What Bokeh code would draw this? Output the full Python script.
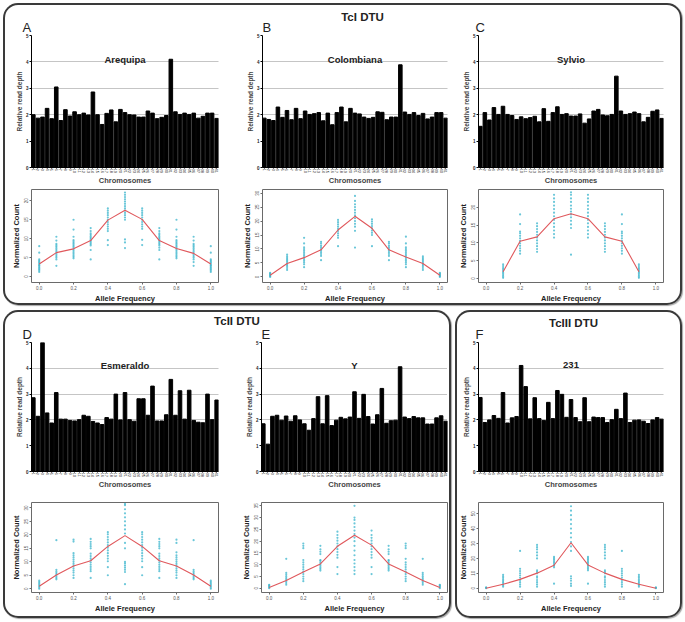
from bokeh.plotting import figure
from bokeh.layouts import row, column
from bokeh.models import Div, FixedTicker, Label, Range1d, PrintfTickFormatter
from bokeh.embed import file_html
from bokeh.resources import INLINE

FONT = "Liberation Sans"

# ---------------- data ----------------
chromosomes = list(range(1, 42))

arequipa_depth = [2.00, 1.87, 1.91, 2.24, 1.85, 3.05, 1.78, 2.19, 1.95, 2.11,
                  2.00, 2.06, 1.99, 2.86, 2.00, 1.63, 2.05, 2.18, 1.73, 2.20,
                  2.08, 2.00, 1.99, 1.91, 1.91, 2.14, 2.06, 1.85, 1.90, 1.97,
                  4.10, 2.11, 2.01, 2.06, 2.01, 2.06, 1.87, 1.94, 2.06, 2.06, 1.86]
colombiana_depth = [1.87, 1.82, 1.78, 2.29, 1.90, 2.16, 1.81, 2.24, 1.85, 2.14,
                    2.01, 2.04, 2.08, 1.77, 2.06, 1.62, 2.08, 2.29, 1.73, 2.24,
                    2.06, 2.03, 1.91, 1.86, 1.90, 2.11, 2.09, 1.81, 1.91, 1.91,
                    3.89, 2.10, 2.01, 2.08, 1.97, 2.05, 1.84, 1.91, 2.08, 2.08, 1.87]
sylvio_depth = [1.56, 2.08, 1.80, 2.27, 2.01, 2.32, 2.01, 1.97, 1.82, 1.92,
                1.85, 1.89, 1.94, 1.73, 2.23, 1.75, 2.08, 2.30, 2.01, 2.04,
                1.95, 1.95, 2.03, 1.68, 1.84, 2.14, 2.20, 1.99, 1.96, 2.01,
                3.46, 2.14, 2.01, 2.04, 2.10, 2.04, 1.73, 1.90, 2.13, 2.18, 1.86]
esmeraldo_depth = [2.86, 2.14, 5.00, 2.27, 1.88, 3.06, 2.03, 2.03, 1.98, 1.96,
                   2.01, 2.18, 2.14, 1.94, 1.88, 1.82, 2.09, 2.03, 3.00, 2.00,
                   3.06, 2.01, 1.95, 2.82, 2.82, 2.18, 3.31, 1.96, 1.96, 2.20,
                   3.57, 2.18, 3.13, 2.03, 3.15, 1.98, 1.91, 1.89, 3.00, 2.01, 2.77]
y_depth = [1.85, 1.06, 2.14, 2.18, 1.99, 2.15, 1.95, 2.16, 2.00, 1.85,
           1.60, 2.05, 2.90, 1.85, 2.94, 1.78, 1.99, 2.10, 2.04, 2.11,
           3.09, 2.06, 2.99, 2.13, 1.84, 2.20, 3.22, 1.87, 1.97, 1.99,
           4.06, 2.11, 2.05, 2.13, 2.08, 2.08, 1.84, 1.84, 2.08, 2.16, 1.95]
s231_depth = [2.87, 1.90, 2.00, 2.17, 2.06, 3.06, 1.88, 2.08, 2.13, 4.11,
              3.29, 2.04, 2.86, 2.05, 1.98, 2.68, 2.05, 3.14, 2.99, 2.10,
              2.79, 2.09, 1.93, 2.86, 1.93, 2.11, 2.09, 2.09, 1.90, 2.01,
              2.41, 2.05, 3.04, 1.90, 1.99, 2.00, 1.95, 1.86, 2.00, 2.09, 2.03]

allele_freq = [0.0, 0.1, 0.2, 0.3, 0.4, 0.5, 0.6, 0.7, 0.8, 0.9, 1.0]
sylvio_freq = [0.1, 0.2, 0.3, 0.4, 0.5, 0.6, 0.7, 0.8, 0.9]

arequipa_curve = [3.3, 6.3, 7.3, 9.5, 14.9, 17.5, 15.1, 9.5, 7.4, 6.1, 3.3]
colombiana_curve = [0.6, 4.8, 6.9, 9.7, 16.8, 21.7, 17.4, 9.7, 7.1, 4.8, 0.6]
sylvio_curve = [1.9, 10.5, 11.7, 16.8, 18.2, 16.8, 11.7, 10.5, 1.9]
esmeraldo_curve = [0.9, 5.1, 8.4, 10.4, 15.7, 19.7, 15.7, 10.4, 8.4, 5.1, 0.9]
y_curve = [0.3, 3.3, 6.9, 10.3, 17.8, 22.5, 18.3, 10.3, 6.9, 3.3, 0.3]
s231_curve = [0.0, 2.6, 5.9, 10.1, 15.4, 30.5, 15.6, 10.1, 5.9, 2.6, 0.0]

arequipa_counts = [
    [1.2, 1.6, 1.9, 2.2, 2.5, 2.8, 3.0, 3.3, 3.6, 3.9, 4.2, 4.5, 6.3, 8.0],
    [2.8, 4.5, 5.0, 5.4, 5.8, 6.2, 6.6, 7.0, 7.4, 7.8, 8.2, 8.6, 9.5, 10.5],
    [4.8, 5.2, 5.6, 6.0, 6.4, 6.8, 7.2, 7.6, 8.0, 8.4, 8.8, 9.2, 9.6, 10.5, 12.4, 15.0],
    [4.5, 7.0, 8.2, 8.6, 9.0, 9.4, 9.8, 10.2, 10.6, 11.0, 11.4, 12.0, 12.8],
    [8.3, 9.6, 12.0, 12.6, 13.2, 13.8, 14.4, 15.0, 15.6, 16.2, 16.8, 17.4, 18.0],
    [7.5, 9.0, 9.8, 15.0, 15.6, 16.2, 16.8, 17.4, 18.0, 18.6, 19.2, 19.8, 20.4, 21.0, 21.6, 22.2],
    [8.3, 9.7, 12.6, 13.2, 13.8, 14.4, 15.0, 15.6, 16.2, 16.8, 17.4, 18.0],
    [4.5, 7.0, 7.6, 8.2, 8.6, 9.0, 9.4, 9.8, 10.2, 10.6, 11.0, 11.4, 12.0, 12.8],
    [4.8, 5.2, 5.6, 6.0, 6.4, 6.8, 7.2, 7.6, 8.0, 8.4, 8.8, 9.2, 9.6, 10.5, 12.4, 15.0],
    [2.8, 3.8, 4.5, 5.0, 5.4, 5.8, 6.2, 6.6, 7.0, 7.4, 7.8, 8.2, 8.6, 9.5, 10.5],
    [1.2, 1.6, 1.9, 2.2, 2.5, 2.8, 3.0, 3.3, 3.6, 3.9, 4.2, 4.5, 6.3, 8.0],
]
colombiana_counts = [
    [0.0, 0.3, 0.6, 0.9, 1.2, 1.5],
    [2.5, 3.2, 3.8, 4.3, 4.8, 5.3, 5.8, 6.3, 6.8, 7.4, 8.0],
    [3.5, 4.5, 5.2, 5.8, 6.4, 7.0, 7.6, 8.2, 8.8, 9.4, 10.0, 10.6, 12.0, 14.0],
    [6.0, 7.5, 8.2, 8.8, 9.4, 10.0, 10.6, 11.2, 12.0, 12.6],
    [11.0, 14.0, 14.8, 15.6, 16.4, 17.2, 18.0, 18.8, 19.6, 20.4],
    [10.5, 16.5, 18.0, 19.0, 20.0, 21.0, 22.0, 23.0, 24.0, 25.0, 26.0, 27.2, 29.0],
    [11.0, 15.0, 15.8, 16.6, 17.4, 18.2, 19.0, 19.8, 20.6],
    [6.0, 7.5, 8.2, 8.8, 9.4, 10.0, 10.6, 11.2, 12.0, 12.6],
    [3.5, 4.5, 5.2, 5.8, 6.4, 7.0, 7.6, 8.2, 8.8, 9.4, 10.0, 10.6, 12.0, 14.4],
    [2.5, 3.2, 3.8, 4.3, 4.8, 5.3, 5.8, 6.3, 6.8, 7.4],
    [0.0, 0.3, 0.6, 0.9, 1.2, 1.5],
]
sylvio_counts = [
    [0.2, 0.6, 1.0, 1.4, 1.8, 2.2, 2.6, 3.0, 3.5, 4.0],
    [7.0, 7.8, 8.5, 9.2, 9.9, 10.6, 11.3, 12.0, 12.7, 13.2, 15.3, 18.0],
    [7.5, 8.3, 9.1, 9.9, 10.7, 11.5, 12.3, 13.1, 13.9, 14.7, 15.5],
    [11.5, 12.5, 13.5, 14.5, 15.5, 16.5, 17.5, 18.5, 19.5, 20.5, 21.5, 22.5, 23.5],
    [6.7, 14.2, 15.2, 16.2, 17.2, 18.0, 18.8, 19.6, 20.5, 21.5, 22.5, 23.5, 24.2],
    [11.5, 12.5, 13.5, 14.5, 15.5, 16.5, 17.5, 18.5, 19.5, 20.5, 21.5, 22.5, 23.5],
    [7.5, 8.3, 9.1, 9.9, 10.7, 11.5, 12.3, 13.1, 13.9, 14.7, 15.5],
    [7.0, 7.8, 8.5, 9.2, 9.9, 10.6, 11.3, 12.0, 12.7, 13.2, 15.3, 18.0],
    [0.2, 0.6, 1.0, 1.4, 1.8, 2.2, 2.6, 3.0, 3.5, 4.0],
]
esmeraldo_counts = [
    [0.0, 0.5, 1.0, 1.5, 2.0, 2.5, 3.0],
    [3.5, 4.0, 4.6, 5.2, 5.8, 6.4, 7.0, 18.0],
    [4.0, 5.0, 6.0, 6.8, 7.6, 8.4, 9.2, 10.0, 10.8, 11.6, 12.4, 13.2, 17.5, 18.2],
    [4.0, 6.5, 7.3, 8.1, 8.9, 9.7, 10.5, 11.3, 12.1, 13.0, 15.0, 15.8, 16.6, 17.4, 18.5],
    [5.0, 8.0, 10.2, 11.2, 12.2, 13.2, 14.2, 15.2, 16.2, 17.2, 18.2, 19.2, 20.2, 21.0],
    [1.7, 6.2, 7.0, 7.8, 8.6, 9.4, 10.0, 15.0, 17.0, 20.5, 22.0, 23.5, 25.0, 26.5, 28.0, 29.5, 31.0, 31.5],
    [5.0, 8.0, 10.2, 11.2, 12.2, 13.2, 14.2, 15.2, 16.2, 17.2, 18.2, 19.2, 20.2, 21.0],
    [4.0, 6.5, 7.3, 8.1, 8.9, 9.7, 10.5, 11.3, 12.1, 13.0, 15.0, 15.8, 16.6, 17.4, 18.5],
    [4.0, 5.0, 6.0, 6.8, 7.6, 8.4, 9.2, 10.0, 10.8, 11.6, 12.4, 13.5, 17.0, 18.2],
    [3.5, 4.0, 4.6, 5.2, 5.8, 6.4, 7.0, 18.0],
    [0.0, 0.5, 1.0, 1.5, 2.0, 2.5, 3.0],
]
y_counts = [
    [0.0, 0.4, 0.8, 1.2, 1.5],
    [1.5, 2.2, 2.9, 3.6, 4.3, 5.0, 5.7, 6.5, 12.5],
    [3.0, 4.0, 5.0, 6.0, 7.0, 8.0, 9.0, 10.0, 11.0, 12.0, 17.0, 18.0, 19.0],
    [7.5, 8.2, 8.9, 9.6, 10.3, 11.0, 11.7, 12.0, 14.5, 15.5, 16.5, 18.0],
    [6.0, 9.0, 13.0, 14.2, 15.4, 16.6, 17.8, 19.0, 20.2, 21.4, 22.6, 24.0],
    [6.0, 7.5, 9.0, 10.5, 12.0, 14.0, 16.0, 18.0, 20.0, 21.5, 23.0, 24.5, 26.0, 27.5, 29.0, 30.0, 35.0],
    [6.0, 9.0, 13.0, 14.2, 15.4, 16.6, 17.8, 19.0, 20.2, 21.4, 22.6, 24.5],
    [7.5, 8.2, 8.9, 9.6, 10.3, 11.0, 11.7, 12.0, 14.5, 15.5, 16.5, 18.0],
    [3.0, 4.0, 5.0, 6.0, 7.0, 8.0, 9.0, 10.0, 11.0, 12.5, 17.0, 18.0, 19.0],
    [1.5, 2.2, 2.9, 3.6, 4.3, 5.0, 5.7, 6.5, 12.5],
    [0.0, 0.4, 0.8, 1.2, 1.5],
]
s231_counts = [
    [0.0, 0.3, 0.5],
    [1.0, 2.0, 3.0, 4.0, 5.0, 6.0, 7.0, 8.0, 9.0],
    [1.0, 2.5, 4.0, 5.5, 7.0, 8.5, 10.0, 11.5, 13.0, 25.0],
    [1.0, 2.5, 4.0, 5.5, 7.0, 8.0, 10.0, 11.0, 12.0, 20.0, 22.0, 24.0, 26.0, 27.5, 29.0],
    [3.0, 14.0, 15.0, 16.0, 17.0, 18.0, 19.0, 20.0, 21.0],
    [1.5, 3.0, 5.0, 6.5, 8.0, 25.0, 28.0, 31.0, 34.0, 37.0, 40.0, 43.0, 46.0, 49.0, 52.0, 55.0],
    [3.0, 12.0, 13.0, 14.0, 15.0, 16.0, 17.0, 18.0, 19.0, 20.0, 21.0],
    [1.0, 2.5, 4.0, 5.5, 7.0, 8.0, 10.0, 11.0, 12.0, 20.0, 22.0, 24.0, 26.0, 27.5, 29.0],
    [1.0, 2.5, 4.0, 5.5, 7.0, 8.5, 10.0, 11.5, 13.0, 25.0],
    [1.0, 2.0, 3.0, 4.0, 5.0, 6.0, 7.0, 8.0, 9.0],
    [0.0, 0.3, 0.5],
]

depth_ticks = [0, 1, 2, 3, 4, 5]
depth_grid = [2, 3, 4]
freq_ticks = [0.0, 0.2, 0.4, 0.6, 0.8, 1.0]


# ---------------- builders ----------------
def bar_panel(name, depths, letter, letter_off, width, height, left, right, top, bottom, name_y):
    p = figure(width=width, height=height, output_backend="svg", toolbar_location=None,
               x_range=Range1d(0.6, 41.4), y_range=Range1d(0, 5.0),
               min_border_left=left, min_border_right=right,
               min_border_top=top, min_border_bottom=bottom)
    p.background_fill_color = None
    p.border_fill_color = None
    p.outline_line_color = None
    p.vbar(x=chromosomes, top=depths, width=0.78, color="black")
    p.title.text = letter
    p.title.align = "left"
    p.title.offset = letter_off
    p.title.standoff = 1
    p.title.text_font = FONT
    p.title.text_font_size = "13px"
    p.title.text_font_style = "normal"
    p.title.text_color = "#222222"
    p.xgrid.visible = False
    p.ygrid.ticker = FixedTicker(ticks=depth_grid)
    p.ygrid.grid_line_color = "#8a8a8a"
    p.ygrid.grid_line_dash = "1 1"
    p.ygrid.grid_line_width = 1
    xa, ya = p.xaxis[0], p.yaxis[0]
    xa.ticker = FixedTicker(ticks=chromosomes)
    xa.major_label_orientation = "vertical"
    xa.major_label_text_font_size = "4px"
    xa.major_label_standoff = 0
    xa.major_tick_out = 1
    xa.major_tick_in = 0
    xa.minor_tick_line_color = None
    xa.axis_label = "Chromosomes"
    xa.axis_label_text_font = FONT
    xa.axis_label_text_font_size = "7.5px"
    xa.axis_label_text_font_style = "bold"
    xa.axis_label_standoff = 0
    ya.ticker = FixedTicker(ticks=depth_ticks)
    ya.major_label_text_font_size = "4.5px"
    ya.major_label_text_font_style = "bold"
    ya.major_label_standoff = 1
    ya.major_tick_out = 2
    ya.major_tick_in = 0
    ya.minor_tick_line_color = None
    ya.axis_label = "Relative read depth"
    ya.axis_label_text_font = FONT
    ya.axis_label_text_font_size = "6.5px"
    ya.axis_label_text_font_style = "bold"
    ya.axis_label_standoff = 0
    for ax in (xa, ya):
        ax.major_label_text_font = FONT
        ax.major_label_text_color = "#222222"
    p.add_layout(Label(x=21, y=name_y, text=name, text_align="center",
                       text_baseline="alphabetic", text_font=FONT,
                       text_font_size="9.5px", text_font_style="bold",
                       text_color="#222222"))
    return p


def scatter_panel(freqs, counts, curve, yr, yticks, width, height, left, right, top, bottom):
    xs = [f for f, col in zip(freqs, counts) for _ in col]
    ys = [v for col in counts for v in col]
    p = figure(width=width, height=height, output_backend="svg", toolbar_location=None,
               x_range=Range1d(-0.045, 1.045), y_range=Range1d(*yr),
               min_border_left=left, min_border_right=right,
               min_border_top=top, min_border_bottom=bottom)
    p.background_fill_color = None
    p.border_fill_color = None
    p.outline_line_color = "#6a6a6a"
    p.outline_line_width = 1
    p.grid.visible = False
    p.scatter(xs, ys, size=2.2, color="#3ab4cc", alpha=0.75, line_width=0)
    p.line(freqs, curve, color="#e0585c", line_width=1.1)
    xa, ya = p.xaxis[0], p.yaxis[0]
    xa.ticker = FixedTicker(ticks=freq_ticks)
    xa.formatter = PrintfTickFormatter(format="%.1f")
    ya.ticker = FixedTicker(ticks=yticks)
    ya.major_label_orientation = "vertical"
    xa.axis_label = "Allele Frequency"
    ya.axis_label = "Normalized Count"
    for ax in (xa, ya):
        ax.axis_line_color = None
        ax.major_tick_out = 2
        ax.major_tick_in = 0
        ax.major_tick_line_color = "#6a6a6a"
        ax.minor_tick_line_color = None
        ax.major_label_text_font = FONT
        ax.major_label_text_font_size = "4.5px"
        ax.major_label_text_color = "#555555"
        ax.major_label_standoff = 1
        ax.axis_label_text_font = FONT
        ax.axis_label_text_font_size = "7.5px"
        ax.axis_label_text_font_style = "bold"
        ax.axis_label_text_color = "#222222"
        ax.axis_label_standoff = 1
    return p


def box_title(text, width, pad_left=0, top=4):
    html = ('<div style="width:%dpx;font-family:\'Liberation Sans\';font-weight:bold;font-size:11.5px;'
            'color:#222;text-align:center;line-height:12px;padding-top:%dpx;box-sizing:border-box;'
            'padding-left:%dpx;">%s</div>' % (width, top, pad_left, text))
    return Div(text=html, width=width, height=14, margin=0)


BOX = {"border-radius": "15px",
       "box-shadow": "inset 0 0 0 2px #3a3a3a, 1px 1px 1px rgba(0,0,0,0.35)"}

# ---- top box (TcI) : 679 x 302 ----
A = column(bar_panel("Arequipa", arequipa_depth, "A", -9, 226, 170, 28, 0, 17, 20, 4.08),
           scatter_panel(allele_freq, arequipa_counts, arequipa_curve, (-1.6, 23.0),
                         [0, 5, 10, 15, 20], 226, 118, 28, 11, 2, 22))
B = column(bar_panel("Colombiana", colombiana_depth, "B", 0, 226, 170, 24, 1, 17, 20, 4.08),
           scatter_panel(allele_freq, colombiana_counts, colombiana_curve, (-2.0, 31.3),
                         [0, 5, 10, 15, 20, 25, 30], 226, 118, 33, 8, 2, 22))
C = column(bar_panel("Sylvio", sylvio_depth, "C", -3, 227, 170, 19, 11, 17, 20, 4.08),
           scatter_panel(sylvio_freq, sylvio_counts, sylvio_curve, (-1.1, 25.0),
                         [0, 5, 10, 15, 20], 227, 118, 22, 19, 2, 22))
top_box = column(box_title("TcI DTU", 679, 40, 8), row(A, B, C), styles=BOX)

# ---- bottom-left box (TcII) : 448 x 308 ----
D = column(bar_panel("Esmeraldo", esmeraldo_depth, "D", -9, 226, 168, 28, 0, 15, 21, 4.12),
           scatter_panel(allele_freq, esmeraldo_counts, esmeraldo_curve, (-1.4, 32.0),
                         [0, 5, 10, 15, 20, 25, 30], 226, 126, 28, 11, 10, 26))
E = column(bar_panel("Y", y_depth, "E", 0, 222, 168, 24, 2, 15, 21, 4.12),
           scatter_panel(allele_freq, y_counts, y_curve, (-1.8, 36.4),
                         [0, 5, 10, 15, 20, 25, 30, 35], 222, 126, 32, 4, 10, 26))
bl_box = column(box_title("TcII DTU", 448, 20, 5), row(D, E), styles=BOX)

# ---- bottom-right box (TcIII) : 227 x 308 ----
F = column(bar_panel("231", s231_depth, "F", -3, 227, 168, 19, 11, 15, 21, 4.12),
           scatter_panel(allele_freq, s231_counts, s231_curve, (-2.9, 57.5),
                         [0, 10, 20, 30, 40, 50], 227, 126, 22, 19, 10, 26))
br_box = column(box_title("TcIII DTU", 227, 10, 7), F, styles=BOX)

root = column(top_box, row(bl_box, br_box, spacing=4), spacing=5, margin=(3, 0, 0, 3))

open("out.html", "w").write(file_html(root, INLINE))
